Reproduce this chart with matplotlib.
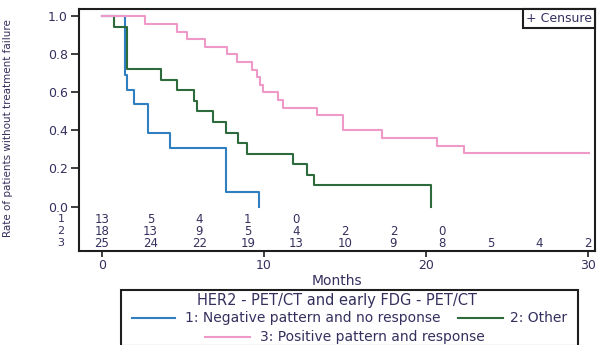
import matplotlib
matplotlib.use("Agg")
import matplotlib.pyplot as plt
from matplotlib.lines import Line2D
from matplotlib.patches import Rectangle
import matplotlib.transforms as mtransforms

plt.rcParams['font.family'] = ['DejaVu Sans']

# Kaplan-Meier step curves: event times (months) and survival after each step
neg_times = [0, 1.42, 1.53, 1.98, 2.82, 4.20, 7.64, 9.70]
neg_surv = [1.0, 0.692, 0.615, 0.538, 0.385, 0.308, 0.077, 0.0]

other_times = [0, 0.72, 1.53, 3.64, 4.61, 5.70, 5.85, 6.87, 7.64, 8.38, 8.95,
               11.82, 12.64, 13.11, 20.30]
other_surv = [1.0, 0.944, 0.722, 0.667, 0.611, 0.556, 0.500, 0.444, 0.389,
              0.333, 0.278, 0.222, 0.167, 0.111, 0.0]

pos_times = [0, 2.66, 4.61, 5.23, 6.36, 7.70, 8.32, 9.25, 9.55, 9.76, 9.96,
             10.89, 11.20, 13.30, 14.90, 17.31, 20.71, 22.38]
pos_surv = [1.0, 0.96, 0.92, 0.88, 0.84, 0.80, 0.76, 0.72, 0.68, 0.64, 0.60,
            0.56, 0.52, 0.48, 0.40, 0.36, 0.32, 0.28]
pos_last = 30.1

# Numbers at risk every 3 months
risk_months = [0, 3, 6, 9, 12, 15, 18, 21, 24, 27, 30]
risk_neg = [13, 5, 4, 1, 0]
risk_other = [18, 13, 9, 5, 4, 2, 2, 0]
risk_pos = [25, 24, 22, 19, 13, 10, 9, 8, 5, 4, 2]

group_labels = ["1: Negative pattern and no response", "2: Other",
                "3: Positive pattern and response"]
legend_title = "HER2 - PET/CT and early FDG - PET/CT"

c_neg = "#2f7fc1"
c_other = "#2e6b3c"
c_pos = "#ee99c8"
txt = "#34305e"
frame = "#1e1e1e"

W, H = 603, 345
fig = plt.figure(figsize=(W / 100, H / 100), dpi=100)
ax = fig.add_axes([79 / W, 1 - 251 / H, (595 - 79) / W, (251 - 9) / H])

lw = 1.5
ax.step(neg_times, neg_surv, where="post", color=c_neg, lw=lw)
ax.step(other_times, other_surv, where="post", color=c_other, lw=lw)
ax.step(pos_times + [pos_last], pos_surv + [pos_surv[-1]], where="post",
        color=c_pos, lw=lw)

ax.set_xlim(-1.42, 30.45)
ax.set_ylim(-0.234, 1.039)

for s in ax.spines.values():
    s.set_linewidth(1.5)
    s.set_color(frame)

ax.set_yticks([0, 0.2, 0.4, 0.6, 0.8, 1.0])
ax.set_yticklabels(["0.0", "0.2", "0.4", "0.6", "0.8", "1.0"])
ax.set_xticks([0, 10, 20, 30])
ax.tick_params(axis="y", direction="out", length=6, width=1.2,
               color=frame, labelcolor=txt, labelsize=9, pad=2)
ax.tick_params(axis="x", direction="out", length=4, width=1.2,
               color=frame, labelcolor=txt, labelsize=9, pad=2)

ax.set_xlabel("Months", fontsize=10, color=txt, labelpad=1)
ax.set_ylabel("Rate of patients without treatment failure", fontsize=7.5,
              color=txt)
ax.yaxis.set_label_coords(-0.128, 0.51)

# Numbers-at-risk table inside the frame
row_y = [-0.068, -0.131, -0.194]
trans = mtransforms.blended_transform_factory(ax.transAxes, ax.transData)
for ry, counts, lab in zip(row_y, [risk_neg, risk_other, risk_pos], ["1", "2", "3"]):
    ax.text(-0.035, ry, lab, transform=trans, ha="center", va="center",
            fontsize=8, color=txt, clip_on=False)
    for m, n in zip(risk_months, counts):
        ax.text(m, ry, str(n), ha="center", va="center", fontsize=8.5, color=txt)

# Censoring key
ax.text(0.994, 0.988, "+ Censure", transform=ax.transAxes, ha="right", va="top",
        fontsize=9, color=txt,
        bbox=dict(boxstyle="square,pad=0.25", fc="white", ec=frame, lw=1.5))

# Group key below the chart
fig.patches.append(Rectangle((121 / W, 1 - 346 / H), (578 - 121) / W, (346 - 290) / H,
                             transform=fig.transFigure, fill=False, ec=frame, lw=1.5))
fig.text(337 / W, 1 - 300 / H, legend_title, ha="center", va="center",
         fontsize=10.5, color=txt)
entries = [(132, 175, 185, 318, c_neg, group_labels[0]),
           (458, 503, 510, 318, c_other, group_labels[1]),
           (205, 250, 260, 337, c_pos, group_labels[2])]
for x0, x1, xt, y, col, lab in entries:
    fig.lines.append(Line2D([x0 / W, x1 / W], [1 - y / H, 1 - y / H],
                            transform=fig.transFigure, color=col, lw=1.5))
    fig.text(xt / W, 1 - y / H, lab, ha="left", va="center", fontsize=10,
             color=txt)

fig.savefig("out.png", dpi=100, facecolor="white")
